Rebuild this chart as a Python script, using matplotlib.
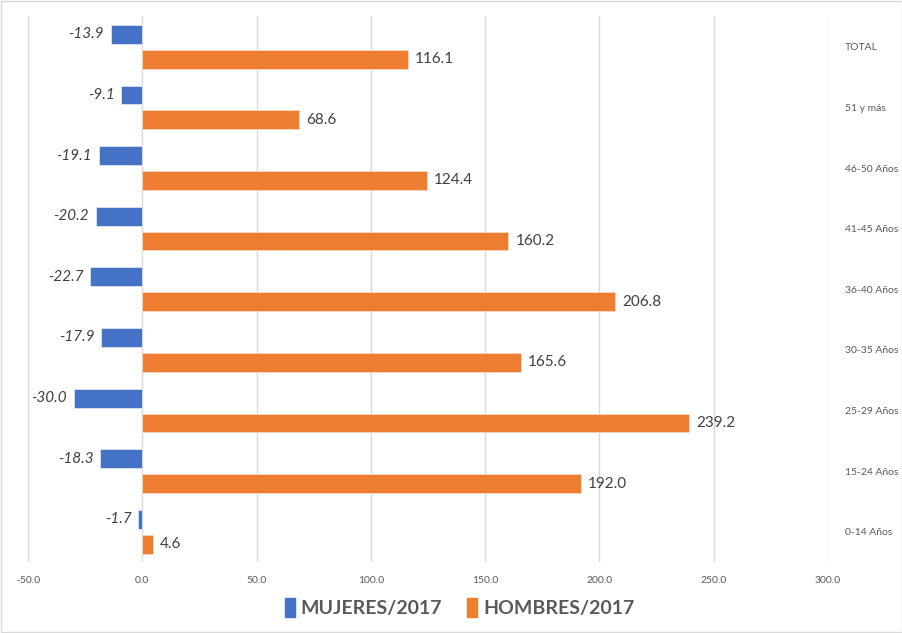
import matplotlib
matplotlib.use("Agg")
import matplotlib.pyplot as plt
from matplotlib.patches import Rectangle

plt.rcParams['font.family'] = ['Lato', 'DejaVu Sans']

categorias = ["TOTAL", "51 y más", "46-50 Años", "41-45 Años", "36-40 Años",
              "30-35 Años", "25-29 Años", "15-24 Años", "0-14 Años"]
mujeres = [-13.9, -9.1, -19.1, -20.2, -22.7, -17.9, -30.0, -18.3, -1.7]
hombres = [116.1, 68.6, 124.4, 160.2, 206.8, 165.6, 239.2, 192.0, 4.6]
ticks_x = [-50, 0, 50, 100, 150, 200, 250, 300]

azul = "#4472C4"
naranja = "#ED7D31"
gris = "#595959"

fig = plt.figure(figsize=(9.03, 6.33), dpi=100)
ax = fig.add_axes([0.031, 0.112, 0.886, 0.862])

pos = list(range(len(categorias)))
h = 0.31
off = 0.205
ax.barh([p - off for p in pos], mujeres, height=h, color=azul, edgecolor="#dfe6f3", linewidth=0.6, zorder=3)
ax.barh([p + off for p in pos], hombres, height=h, color=naranja, edgecolor="#f8d7c0", linewidth=0.6, zorder=3)

# etiquetas de datos
for p, v in zip(pos, mujeres):
    ax.annotate(f"{v:.1f}", (v, p - off), xytext=(-5, 0), textcoords="offset points",
                ha="right", va="center", fontsize=11, style="italic", color="#404040")
for p, v in zip(pos, hombres):
    ax.annotate(f"{v:.1f}", (v, p + off), xytext=(5, 0), textcoords="offset points",
                ha="left", va="center", fontsize=11, color="#404040")

ax.set_xlim(-50, 300)
ax.set_ylim(len(categorias) - 0.5, -0.5)
ax.set_xticks(ticks_x)
ax.set_xticklabels([f"{t:.1f}" for t in ticks_x], fontsize=7.5, color=gris)
ax.set_yticks(pos)
ax.set_yticklabels(categorias, fontsize=7.5, color=gris, ha="left")
ax.yaxis.tick_right()
ax.tick_params(axis="y", length=0, pad=12)
ax.tick_params(axis="x", length=0, pad=10)
ax.grid(axis="x", color="#d9d9d9", linewidth=1, zorder=0)
for s in ax.spines.values():
    s.set_visible(False)

# leyenda
hs = [Rectangle((0, 0), 1, 1, color=azul), Rectangle((0, 0), 1, 1, color=naranja)]
fig.legend(hs, ["MUJERES/2017", "HOMBRES/2017"], loc="center", bbox_to_anchor=(0.509, 0.04),
           ncol=2, frameon=False, prop={"size": 14, "weight": "bold"}, handlelength=0.5,
           handleheight=1.1, handletextpad=0.3, columnspacing=1.3, labelcolor=gris)

# borde de la figura
fig.patches.append(Rectangle((0.001, 0.001), 0.998, 0.998, transform=fig.transFigure,
                             fill=False, edgecolor="#d9d9d9", linewidth=1))

fig.savefig("out.png", dpi=100)
